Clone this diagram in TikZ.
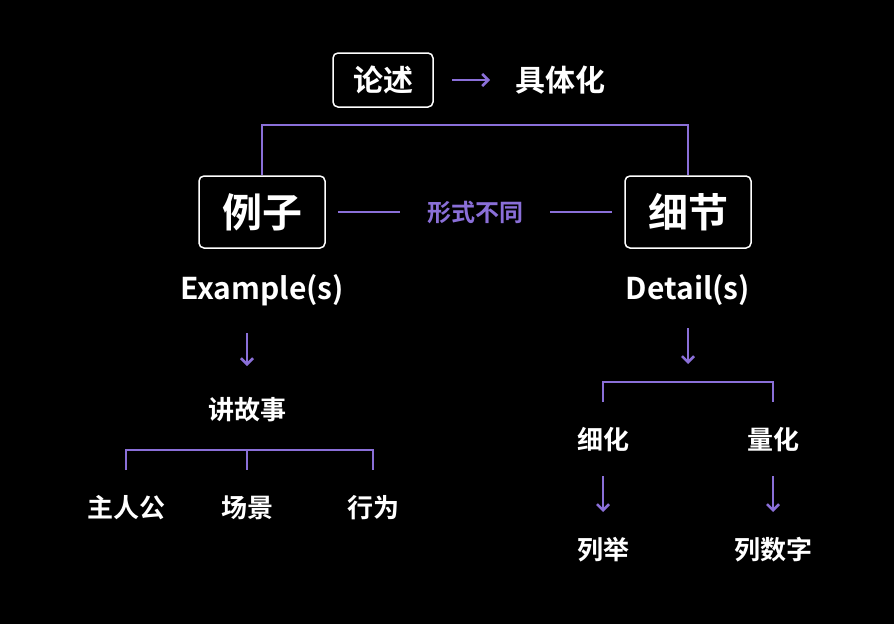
\documentclass[tikz,border=0pt]{standalone}
\usepackage{fontspec}
\setmainfont{Noto Sans CJK SC}[BoldFont={* Bold}]
\usetikzlibrary{arrows.meta}
\definecolor{pur}{HTML}{8A6FD8}
\begin{document}
\begin{tikzpicture}[x=1pt,y=-1pt,
  lbl/.style={text=white,font=\bfseries\fontsize{26}{30}\selectfont},
  big/.style={text=white,font=\bfseries\fontsize{40}{46}\selectfont},
  box/.style={draw=white,line width=1.5pt,rounded corners=5pt,inner sep=0pt},
  pl/.style={draw=pur,line width=1.5pt},
  parr/.style={pur,line width=2.5pt,-{Straight Barb[length=6pt,width=12pt]}}]
\fill[black] (0,0) rectangle (894,624);
\useasboundingbox (0,0) rectangle (894,624);
\node[box,minimum width=100,minimum height=54,lbl,font=\bfseries\fontsize{30}{34}\selectfont] (lun) at (383,80) {论述};
\node[lbl,font=\bfseries\fontsize{30}{34}\selectfont] (ju) at (560,80) {具体化};
\draw[parr] (452,80) -- (490,80);
\node[box,minimum width=126,minimum height=72,big] (lz) at (262,212) {例子};
\node[box,minimum width=126,minimum height=72,big] (xj) at (688,212) {细节};
\draw[pl] (lz.north) -- (262,125) -- (688,125) -- (xj.north);
\node[text=pur,font=\bfseries\fontsize{24}{28}\selectfont] (xs) at (475,212) {形式不同};
\draw[pl] (lz.east)++(12,0) -- (400,212);
\draw[pl] (550,212) -- ++(62,0);
\node[lbl,font=\bfseries\fontsize{30}{34}\selectfont] (ex) at (262,290) {Example(s)};
\node[lbl,font=\bfseries\fontsize{30}{34}\selectfont] (de) at (688,290) {Detail(s)};
\draw[parr] (247,333) -- (247,366);
\draw[parr] (688,328) -- (688,364);
\node[lbl] (gs) at (247,410) {讲故事};
\draw[pl] (126,470) -- (126,450) -- (373,450) -- (373,470);
\draw[pl] (247,450) -- (247,470);
\node[lbl] (zr) at (126,508) {主人公};
\node[lbl] (cj) at (247,508) {场景};
\node[lbl] (xw) at (373,508) {行为};
\draw[pl] (603,402) -- (603,382) -- (773,382) -- (773,402);
\node[lbl] (xh) at (603,440) {细化};
\node[lbl] (lh) at (773,440) {量化};
\draw[parr] (603,476) -- (603,512);
\draw[parr] (773,476) -- (773,512);
\node[lbl] (lj) at (603,550) {列举};
\node[lbl] (ls) at (773,550) {列数字};
\end{tikzpicture}
\end{document}
